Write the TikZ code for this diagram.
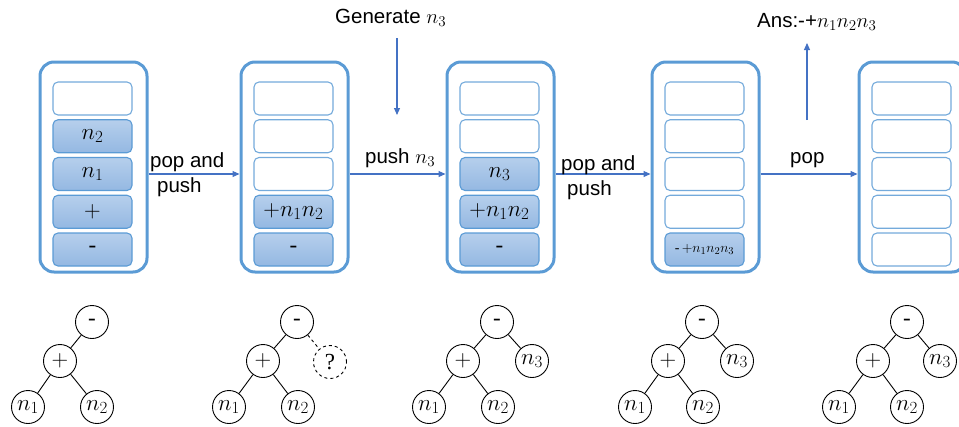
\RequirePackage{fix-cm}
\documentclass[tikz,border=0pt]{standalone}
\usepackage[no-math]{fontspec}
\setmainfont{Liberation Sans}
\newfontfamily\serifface{Liberation Serif}
\usetikzlibrary{arrows.meta}
% larger subscripts, closer to the look of Cambria Math
\DeclareMathSizes{23}{23}{17}{13}
\DeclareMathSizes{20.5}{20.5}{15}{11}
\DeclareMathSizes{14}{14}{10.5}{8}
\definecolor{boxblue}{HTML}{5B9BD5}
\definecolor{arrowblue}{HTML}{4472C4}
\definecolor{celltop}{HTML}{B6CFEC}
\definecolor{cellbot}{HTML}{94B8E2}
\tikzset{
  stackbox/.style={draw=boxblue, line width=3pt, rounded corners=14pt,
    minimum width=107pt, minimum height=210pt, inner sep=0pt},
  emptycell/.style={draw=boxblue!85, line width=1.1pt, fill=white,
    rounded corners=5pt, minimum width=79pt, minimum height=33pt, inner sep=0pt},
  fullcell/.style={emptycell, top color=celltop, bottom color=cellbot, draw=boxblue,
    font=\fontsize{23}{24}\selectfont},
  flow/.style={draw=arrowblue, line width=1.1pt, -{Triangle[length=7pt,width=6pt]}},
  lbl/.style={font=\fontsize{20.5}{24}\selectfont, inner sep=0pt, anchor=base west},
  tnode/.style={circle, draw, line width=0.9pt, minimum size=33pt, inner sep=0pt,
    font=\fontsize{23}{24}\selectfont},
  tedge/.style={line width=0.9pt},
}
\newcommand{\hy}{{\serifface -}}
\begin{document}
\begin{tikzpicture}[x=1pt, y=-1pt]
\useasboundingbox (0,0) rectangle (959,426);
\clip (0,0) rectangle (959,426);

% ---- stack 1 ----
\node[stackbox] (s1) at (93.5,167) {};
\node[emptycell] (s1c1) at (92.5,98.5) {};
\node[fullcell] (s1c2) at (92.5,136.25) {$n_2$};
\node[fullcell] (s1c3) at (92.5,174) {$n_1$};
\node[fullcell] (s1c4) at (92.5,211.75) {$+$};
\node[fullcell] (s1c5) at (92.5,249.5) {\hy};

% ---- stack 2 ----
\node[stackbox] (s2) at (294.5,167) {};
\node[emptycell] (s2c1) at (293.5,98.5) {};
\node[emptycell] (s2c2) at (293.5,136.25) {};
\node[emptycell] (s2c3) at (293.5,174) {};
\node[fullcell] (s2c4) at (293.5,211.75) {$+n_1n_2$};
\node[fullcell] (s2c5) at (293.5,249.5) {\hy};

% ---- stack 3 ----
\node[stackbox] (s3) at (500.5,167) {};
\node[emptycell] (s3c1) at (499.5,98.5) {};
\node[emptycell] (s3c2) at (499.5,136.25) {};
\node[fullcell] (s3c3) at (499.5,174) {$n_3$};
\node[fullcell] (s3c4) at (499.5,211.75) {$+n_1n_2$};
\node[fullcell] (s3c5) at (499.5,249.5) {\hy};

% ---- stack 4 ----
\node[stackbox] (s4) at (705.5,167) {};
\node[emptycell] (s4c1) at (704.5,98.5) {};
\node[emptycell] (s4c2) at (704.5,136.25) {};
\node[emptycell] (s4c3) at (704.5,174) {};
\node[emptycell] (s4c4) at (704.5,211.75) {};
\node[fullcell, font=\fontsize{14}{15}\selectfont] (s4c5) at (704.5,249.5) {\hy\,$+n_1n_2n_3$};

% ---- stack 5 ----
\node[stackbox] (s5) at (912.5,167) {};
\node[emptycell] (s5c1) at (911.5,98.5) {};
\node[emptycell] (s5c2) at (911.5,136.25) {};
\node[emptycell] (s5c3) at (911.5,174) {};
\node[emptycell] (s5c4) at (911.5,211.75) {};
\node[emptycell] (s5c5) at (911.5,249.5) {};

% ---- transitions ----
\draw[flow] (s1.east |- s1c3) -- (s2.west |- s1c3);
\draw[flow] (s2.east |- s1c3) -- (s3.west |- s1c3);
\draw[flow] (s3.east |- s1c3) -- (s4.west |- s1c3);
\draw[flow] (s4.east |- s1c3) -- (s5.west |- s1c3);

\node[lbl] (l1a) at (150,167.5) {pop and};
\node[lbl] (l1b) at (157,192.5) {push};
\node[lbl] (l2) at (365,163) {push $n_3$};
\node[lbl] (l3a) at (561,170.5) {pop and};
\node[lbl] (l3b) at (567,195.5) {push};
\node[lbl] (l4) at (790,163) {pop};

\node[lbl] (gen) at (335,23) {Generate $n_3$};
\coordinate (genA) at (397,38);
\coordinate (genB) at (397,115);
\draw[flow] (genA) -- (genB);

\node[lbl] (ans) at (757,27) {Ans:-+$n_1n_2n_3$};
\coordinate (ansA) at (807,120);
\coordinate (ansB) at (807,43);
\draw[flow] (ansA) -- (ansB);

% ---- expression trees ----
% tree 1
\node[tnode] (t1m) at (92,322) {\hy};
\node[tnode] (t1p) at (60,361) {$+$};
\node[tnode] (t1a) at (28,407) {$n_1$};
\node[tnode] (t1b) at (97,407) {$n_2$};
\draw[tedge] (t1m) -- (t1p) (t1p) -- (t1a) (t1p) -- (t1b);

% tree 2
\node[tnode] (t2m) at (297,322) {\hy};
\node[tnode] (t2p) at (263,361) {$+$};
\node[tnode] (t2a) at (229,407) {$n_1$};
\node[tnode] (t2b) at (298,407) {$n_2$};
\node[tnode, dashed] (t2q) at (330,362) {\serifface ?};
\draw[tedge] (t2m) -- (t2p) (t2p) -- (t2a) (t2p) -- (t2b);
\draw[tedge, dashed] (t2m) -- (t2q);

% tree 3
\node[tnode] (t3m) at (497,322) {\hy};
\node[tnode] (t3p) at (463,361) {$+$};
\node[tnode] (t3a) at (429,407) {$n_1$};
\node[tnode] (t3b) at (498,407) {$n_2$};
\node[tnode] (t3c) at (532,361) {$n_3$};
\draw[tedge] (t3m) -- (t3p) (t3p) -- (t3a) (t3p) -- (t3b) (t3m) -- (t3c);

% tree 4
\node[tnode] (t4m) at (702,322) {\hy};
\node[tnode] (t4p) at (668,361) {$+$};
\node[tnode] (t4a) at (635,407) {$n_1$};
\node[tnode] (t4b) at (703,407) {$n_2$};
\node[tnode] (t4c) at (737,361) {$n_3$};
\draw[tedge] (t4m) -- (t4p) (t4p) -- (t4a) (t4p) -- (t4b) (t4m) -- (t4c);

% tree 5
\node[tnode] (t5m) at (907,322) {\hy};
\node[tnode] (t5p) at (873,361) {$+$};
\node[tnode] (t5a) at (839,407) {$n_1$};
\node[tnode] (t5b) at (907,407) {$n_2$};
\node[tnode] (t5c) at (940,361) {$n_3$};
\draw[tedge] (t5m) -- (t5p) (t5p) -- (t5a) (t5p) -- (t5b) (t5m) -- (t5c);
\end{tikzpicture}
\end{document}
